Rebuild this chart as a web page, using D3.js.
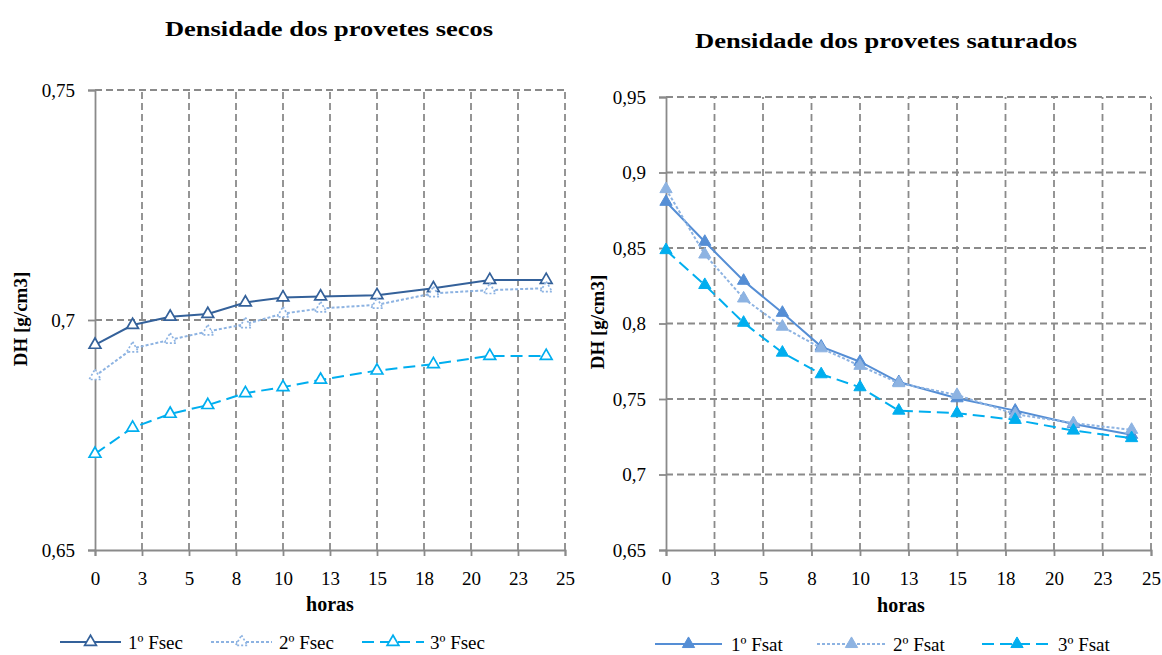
<!DOCTYPE html>
<html><head><meta charset="utf-8">
<script src="https://cdn.jsdelivr.net/npm/d3@7"></script>
<style>body{margin:0;background:#fff}svg{display:block}text{font-family:"Liberation Serif","Times New Roman",serif;fill:#000}</style>
</head><body><svg id="c" width="1162" height="655"></svg>
<script>
const hours = [0, 2, 4, 6, 8, 10, 12, 15, 18, 21, 24];
const xTicks = [0, 2.5, 5, 7.5, 10, 12.5, 15, 17.5, 20, 22.5, 25];
const fsec1 = [0.6946, 0.6989, 0.7007, 0.7013, 0.7038, 0.7049, 0.7051, 0.7054, 0.7069, 0.7087, 0.7087];
const fsec2 = [0.6878, 0.6938, 0.6957, 0.6975, 0.6991, 0.7014, 0.7025, 0.7033, 0.7058, 0.7065, 0.7069];
const fsec3 = [0.6709, 0.6766, 0.6796, 0.6815, 0.6841, 0.6854, 0.6870, 0.6890, 0.6904, 0.6922, 0.6922];
const fsat1 = [0.8806, 0.8541, 0.8283, 0.8071, 0.7847, 0.7747, 0.7612, 0.7505, 0.7423, 0.7335, 0.7263];
const fsat2 = [0.8890, 0.8457, 0.8166, 0.7979, 0.7836, 0.7720, 0.7605, 0.7527, 0.7400, 0.7340, 0.7296];
const fsat3 = [0.8486, 0.8255, 0.8005, 0.7807, 0.7664, 0.7578, 0.7423, 0.7406, 0.7362, 0.7291, 0.7241];
const secTicks = [0.65, 0.7, 0.75];
const satTicks = [0.65, 0.7, 0.75, 0.8, 0.85, 0.9, 0.95];
const secNames = ["1º Fsec", "2º Fsec", "3º Fsec"];
const satNames = ["1º Fsat", "2º Fsat", "3º Fsat"];

const svg = d3.select("#c");
const GRID = "#8a8a8a";
const fmtY = d => String(+d.toFixed(2)).replace(".", ",");
const fmtX = d => String(Math.round(d));

function panel(o) {
  const x = d3.scaleLinear().domain([0, 25]).range(o.xr);
  const y = d3.scaleLinear().domain(o.yd).range(o.yr);
  const g = svg.append("g");
  // grid
  g.selectAll(".vg").data(xTicks.slice(1)).join("line")
    .attr("x1", d => x(d)).attr("x2", d => x(d)).attr("y1", o.yr[0]).attr("y2", o.yr[1])
    .attr("stroke", GRID).attr("stroke-width", 1.8).attr("stroke-dasharray", "7,4");
  g.selectAll(".hg").data(o.ticks.slice(1)).join("line")
    .attr("x1", o.xr[0]).attr("x2", o.xr[1]).attr("y1", d => y(d)).attr("y2", d => y(d))
    .attr("stroke", GRID).attr("stroke-width", 1.8).attr("stroke-dasharray", "7,4");
  // axes
  const ax = g.append("g").attr("transform", `translate(0,${o.yr[0]})`)
    .call(d3.axisBottom(x).tickValues(xTicks).tickFormat(fmtX).tickSize(6).tickPadding(16));
  const ay = g.append("g").attr("transform", `translate(${o.xr[0]},0)`)
    .call(d3.axisLeft(y).tickValues(o.ticks).tickFormat(fmtY).tickSize(7).tickPadding(13));
  [ax, ay].forEach(a => {
    a.select(".domain").attr("stroke", GRID).attr("stroke-width", 1.8);
    a.selectAll(".tick line").attr("stroke", GRID).attr("stroke-width", 1.8);
    a.selectAll("text").attr("font-size", 19).attr("font-family", '"Liberation Serif",serif').attr("fill", "#000");
  });
  // titles
  g.append("text").attr("x", o.tx).attr("y", o.ty).attr("text-anchor", "middle")
    .attr("font-size", 22).attr("font-weight", "bold")
    .attr("textLength", o.tlen).attr("lengthAdjust", "spacingAndGlyphs").text(o.title);
  g.append("text").attr("x", o.hx).attr("y", o.hy).attr("text-anchor", "middle")
    .attr("font-size", 20).attr("font-weight", "bold").text("horas");
  g.append("text").attr("transform", `translate(${o.dhx},${o.dhy}) rotate(-90)`).attr("text-anchor", "middle")
    .attr("dominant-baseline", "central").attr("font-size", 19).attr("font-weight", "bold").text("DH [g/cm3]");
  // series
  const line = d3.line().x((d, i) => x(hours[i])).y(d => y(d));
  o.series.forEach((s, k) => {
    const st = o.styles[k];
    g.append("path").datum(s).attr("d", line).attr("fill", "none")
      .attr("stroke", st.c).attr("stroke-width", st.w).attr("stroke-dasharray", st.dash);
    g.selectAll(null).data(s).join("path")
      .attr("transform", (d, i) => `translate(${x(hours[i])},${y(d)})`)
      .attr("d", d3.symbol(d3.symbolTriangle, o.msize)())
      .attr("fill", o.filled ? st.c : "#fff").attr("stroke", st.c).attr("stroke-width", o.filled ? 1 : 1.7)
      .attr("stroke-dasharray", st.mdash || null);
    // legend
    const L = o.legend[k];
    g.append("line").attr("x1", L[0]).attr("x2", L[1]).attr("y1", o.ly).attr("y2", o.ly)
      .attr("stroke", st.c).attr("stroke-width", st.w).attr("stroke-dasharray", st.dash);
    g.append("path").attr("transform", `translate(${(L[0] + L[1]) / 2},${o.ly})`)
      .attr("d", d3.symbol(d3.symbolTriangle, o.msize)())
      .attr("fill", o.filled ? st.c : "#fff").attr("stroke", st.c).attr("stroke-width", o.filled ? 1 : 1.7)
      .attr("stroke-dasharray", st.mdash || null);
    g.append("text").attr("x", L[2]).attr("y", o.ly).attr("dominant-baseline", "central")
      .attr("font-size", 19).text(o.names[k]);
  });
}

panel({
  xr: [95, 565], yd: [0.65, 0.75], yr: [550, 90], ticks: secTicks,
  title: "Densidade dos provetes secos", tx: 329, ty: 36, tlen: 328, hx: 330, hy: 611, dhx: 20, dhy: 319,
  series: [fsec1, fsec2, fsec3], names: secNames, filled: false, msize: 60,
  styles: [{c: "#34619A", w: 2, dash: null}, {c: "#8DB3E2", w: 2, dash: "3,2", mdash: "2,2"}, {c: "#00AEEF", w: 2, dash: "12,6"}],
  legend: [[60, 121, 128], [211, 272, 279], [362, 424, 430]], ly: 642
});
panel({
  xr: [666, 1151], yd: [0.65, 0.95], yr: [550, 97], ticks: satTicks,
  title: "Densidade dos provetes saturados", tx: 886, ty: 48, tlen: 382, hx: 901, hy: 612, dhx: 597, dhy: 322,
  series: [fsat1, fsat2, fsat3], names: satNames, filled: true, msize: 65,
  styles: [{c: "#558ED5", w: 2, dash: null}, {c: "#8DB3E2", w: 2, dash: "3,2"}, {c: "#00AEEF", w: 2, dash: "12,6"}],
  legend: [[655, 722, 731], [817, 886, 893], [982, 1052, 1058]], ly: 644
});
</script></body></html>
